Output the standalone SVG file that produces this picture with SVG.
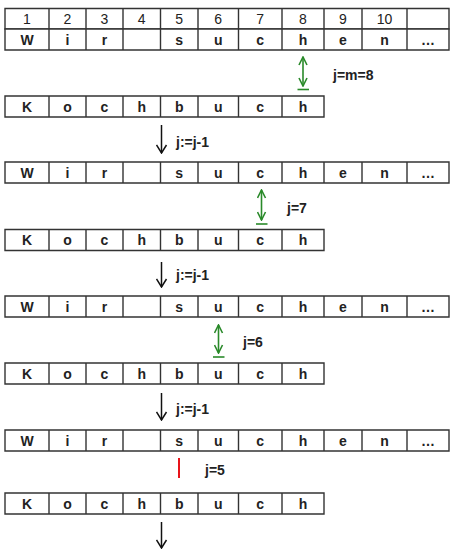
<svg xmlns="http://www.w3.org/2000/svg" width="450" height="550" viewBox="0 0 450 550">
<style>
.cell{fill:#fff;stroke:#333;stroke-width:1.4}
.num{font-family:"Liberation Sans",Arial,sans-serif;font-size:14px;fill:#222;text-anchor:middle}
.ch{font-family:"Liberation Sans",Arial,sans-serif;font-size:14px;font-weight:bold;fill:#222;text-anchor:middle}
.lbl{font-family:"Liberation Sans",Arial,sans-serif;font-size:14px;font-weight:bold;fill:#222}
.blk{stroke:#111;stroke-width:1.5;fill:none}
.grn{stroke:#2a8a2a;stroke-width:1.6;fill:none}
</style>
<defs>
<marker id="ab" viewBox="0 0 10 12" refX="9" refY="6" markerWidth="10" markerHeight="12" markerUnits="userSpaceOnUse" orient="auto"><path d="M1,1 L9,6 L1,11" fill="none" stroke="#111" stroke-width="1.5"/></marker>
<marker id="ag" viewBox="0 0 10 10" refX="9" refY="5" markerWidth="10" markerHeight="10" markerUnits="userSpaceOnUse" orient="auto-start-reverse"><path d="M1,1 L9,5 L1,9" fill="none" stroke="#2a8a2a" stroke-width="1.6"/></marker>
</defs>

<g id="index-row">
<path class="cell" d="M5,8.5H449V29H5Z M49,8.5V29 M86,8.5V29 M123,8.5V29 M160.5,8.5V29 M198,8.5V29 M238.5,8.5V29 M282,8.5V29 M324,8.5V29 M362,8.5V29 M407,8.5V29"/>
<text class="num" x="27" y="24">1</text><text class="num" x="67.5" y="24">2</text><text class="num" x="104.5" y="24">3</text><text class="num" x="141.75" y="24">4</text><text class="num" x="179.25" y="24">5</text><text class="num" x="218.25" y="24">6</text><text class="num" x="260.25" y="24">7</text><text class="num" x="303" y="24">8</text><text class="num" x="343" y="24">9</text><text class="num" x="384.5" y="24">10</text>
</g>

<g id="text-1" transform="translate(0,29)">
<path class="cell" d="M5,0H449V21H5Z M49,0V21 M86,0V21 M123,0V21 M160.5,0V21 M198,0V21 M238.5,0V21 M282,0V21 M324,0V21 M362,0V21 M407,0V21"/>
<text class="ch" x="27" y="15.5">W</text><text class="ch" x="67.5" y="15.5">i</text><text class="ch" x="104.5" y="15.5">r</text><text class="ch" x="179.25" y="15.5">s</text><text class="ch" x="218.25" y="15.5">u</text><text class="ch" x="260.25" y="15.5">c</text><text class="ch" x="303" y="15.5">h</text><text class="ch" x="343" y="15.5">e</text><text class="ch" x="384.5" y="15.5">n</text><text class="ch" x="428" y="15.5">…</text>
</g>
<g id="pattern-1" transform="translate(0,96)">
<path class="cell" d="M5,0H324V21H5Z M49,0V21 M86,0V21 M123,0V21 M160.5,0V21 M198,0V21 M238.5,0V21 M282,0V21"/>
<text class="ch" x="27" y="15.5">K</text><text class="ch" x="67.5" y="15.5">o</text><text class="ch" x="104.5" y="15.5">c</text><text class="ch" x="141.75" y="15.5">h</text><text class="ch" x="179.25" y="15.5">b</text><text class="ch" x="218.25" y="15.5">u</text><text class="ch" x="260.25" y="15.5">c</text><text class="ch" x="303" y="15.5">h</text>
</g>

<g id="text-2" transform="translate(0,162)">
<path class="cell" d="M5,0H449V21H5Z M49,0V21 M86,0V21 M123,0V21 M160.5,0V21 M198,0V21 M238.5,0V21 M282,0V21 M324,0V21 M362,0V21 M407,0V21"/>
<text class="ch" x="27" y="15.5">W</text><text class="ch" x="67.5" y="15.5">i</text><text class="ch" x="104.5" y="15.5">r</text><text class="ch" x="179.25" y="15.5">s</text><text class="ch" x="218.25" y="15.5">u</text><text class="ch" x="260.25" y="15.5">c</text><text class="ch" x="303" y="15.5">h</text><text class="ch" x="343" y="15.5">e</text><text class="ch" x="384.5" y="15.5">n</text><text class="ch" x="428" y="15.5">…</text>
</g>
<g id="pattern-2" transform="translate(0,229.5)">
<path class="cell" d="M5,0H324V21H5Z M49,0V21 M86,0V21 M123,0V21 M160.5,0V21 M198,0V21 M238.5,0V21 M282,0V21"/>
<text class="ch" x="27" y="15.5">K</text><text class="ch" x="67.5" y="15.5">o</text><text class="ch" x="104.5" y="15.5">c</text><text class="ch" x="141.75" y="15.5">h</text><text class="ch" x="179.25" y="15.5">b</text><text class="ch" x="218.25" y="15.5">u</text><text class="ch" x="260.25" y="15.5">c</text><text class="ch" x="303" y="15.5">h</text>
</g>

<g id="text-3" transform="translate(0,296)">
<path class="cell" d="M5,0H449V21H5Z M49,0V21 M86,0V21 M123,0V21 M160.5,0V21 M198,0V21 M238.5,0V21 M282,0V21 M324,0V21 M362,0V21 M407,0V21"/>
<text class="ch" x="27" y="15.5">W</text><text class="ch" x="67.5" y="15.5">i</text><text class="ch" x="104.5" y="15.5">r</text><text class="ch" x="179.25" y="15.5">s</text><text class="ch" x="218.25" y="15.5">u</text><text class="ch" x="260.25" y="15.5">c</text><text class="ch" x="303" y="15.5">h</text><text class="ch" x="343" y="15.5">e</text><text class="ch" x="384.5" y="15.5">n</text><text class="ch" x="428" y="15.5">…</text>
</g>
<g id="pattern-3" transform="translate(0,363)">
<path class="cell" d="M5,0H324V21H5Z M49,0V21 M86,0V21 M123,0V21 M160.5,0V21 M198,0V21 M238.5,0V21 M282,0V21"/>
<text class="ch" x="27" y="15.5">K</text><text class="ch" x="67.5" y="15.5">o</text><text class="ch" x="104.5" y="15.5">c</text><text class="ch" x="141.75" y="15.5">h</text><text class="ch" x="179.25" y="15.5">b</text><text class="ch" x="218.25" y="15.5">u</text><text class="ch" x="260.25" y="15.5">c</text><text class="ch" x="303" y="15.5">h</text>
</g>

<g id="text-4" transform="translate(0,430)">
<path class="cell" d="M5,0H449V21H5Z M49,0V21 M86,0V21 M123,0V21 M160.5,0V21 M198,0V21 M238.5,0V21 M282,0V21 M324,0V21 M362,0V21 M407,0V21"/>
<text class="ch" x="27" y="15.5">W</text><text class="ch" x="67.5" y="15.5">i</text><text class="ch" x="104.5" y="15.5">r</text><text class="ch" x="179.25" y="15.5">s</text><text class="ch" x="218.25" y="15.5">u</text><text class="ch" x="260.25" y="15.5">c</text><text class="ch" x="303" y="15.5">h</text><text class="ch" x="343" y="15.5">e</text><text class="ch" x="384.5" y="15.5">n</text><text class="ch" x="428" y="15.5">…</text>
</g>
<g id="pattern-4" transform="translate(0,493)">
<path class="cell" d="M5,0H324V21H5Z M49,0V21 M86,0V21 M123,0V21 M160.5,0V21 M198,0V21 M238.5,0V21 M282,0V21"/>
<text class="ch" x="27" y="15.5">K</text><text class="ch" x="67.5" y="15.5">o</text><text class="ch" x="104.5" y="15.5">c</text><text class="ch" x="141.75" y="15.5">h</text><text class="ch" x="179.25" y="15.5">b</text><text class="ch" x="218.25" y="15.5">u</text><text class="ch" x="260.25" y="15.5">c</text><text class="ch" x="303" y="15.5">h</text>
</g>

<g id="connectors">
<line class="grn" x1="303" y1="57" x2="303" y2="86" marker-start="url(#ag)" marker-end="url(#ag)"/>
<line class="grn" x1="297.5" y1="89.5" x2="309" y2="89.5"/>
<line class="grn" x1="261.5" y1="190" x2="261.5" y2="220" marker-start="url(#ag)" marker-end="url(#ag)"/>
<line class="grn" x1="256" y1="224" x2="267.5" y2="224"/>
<line class="grn" x1="218.5" y1="325" x2="218.5" y2="353" marker-start="url(#ag)" marker-end="url(#ag)"/>
<line class="grn" x1="213" y1="357" x2="224.5" y2="357"/>
<line x1="179" y1="458" x2="179" y2="478" stroke="#e8141a" stroke-width="2"/>
<line class="blk" x1="161.5" y1="125" x2="161.5" y2="153" marker-end="url(#ab)"/>
<line class="blk" x1="161.5" y1="262" x2="161.5" y2="287" marker-end="url(#ab)"/>
<line class="blk" x1="161.5" y1="393" x2="161.5" y2="420" marker-end="url(#ab)"/>
<line class="blk" x1="161.5" y1="522" x2="161.5" y2="548" marker-end="url(#ab)"/>
</g>

<g id="labels">
<text class="lbl" x="333" y="80">j=m=8</text>
<text class="lbl" x="287" y="213">j=7</text>
<text class="lbl" x="243" y="347">j=6</text>
<text class="lbl" x="205" y="475">j=5</text>
<text class="lbl" x="176" y="147">j:=j-1</text>
<text class="lbl" x="176" y="280">j:=j-1</text>
<text class="lbl" x="176" y="413.5">j:=j-1</text>
</g>
</svg>
